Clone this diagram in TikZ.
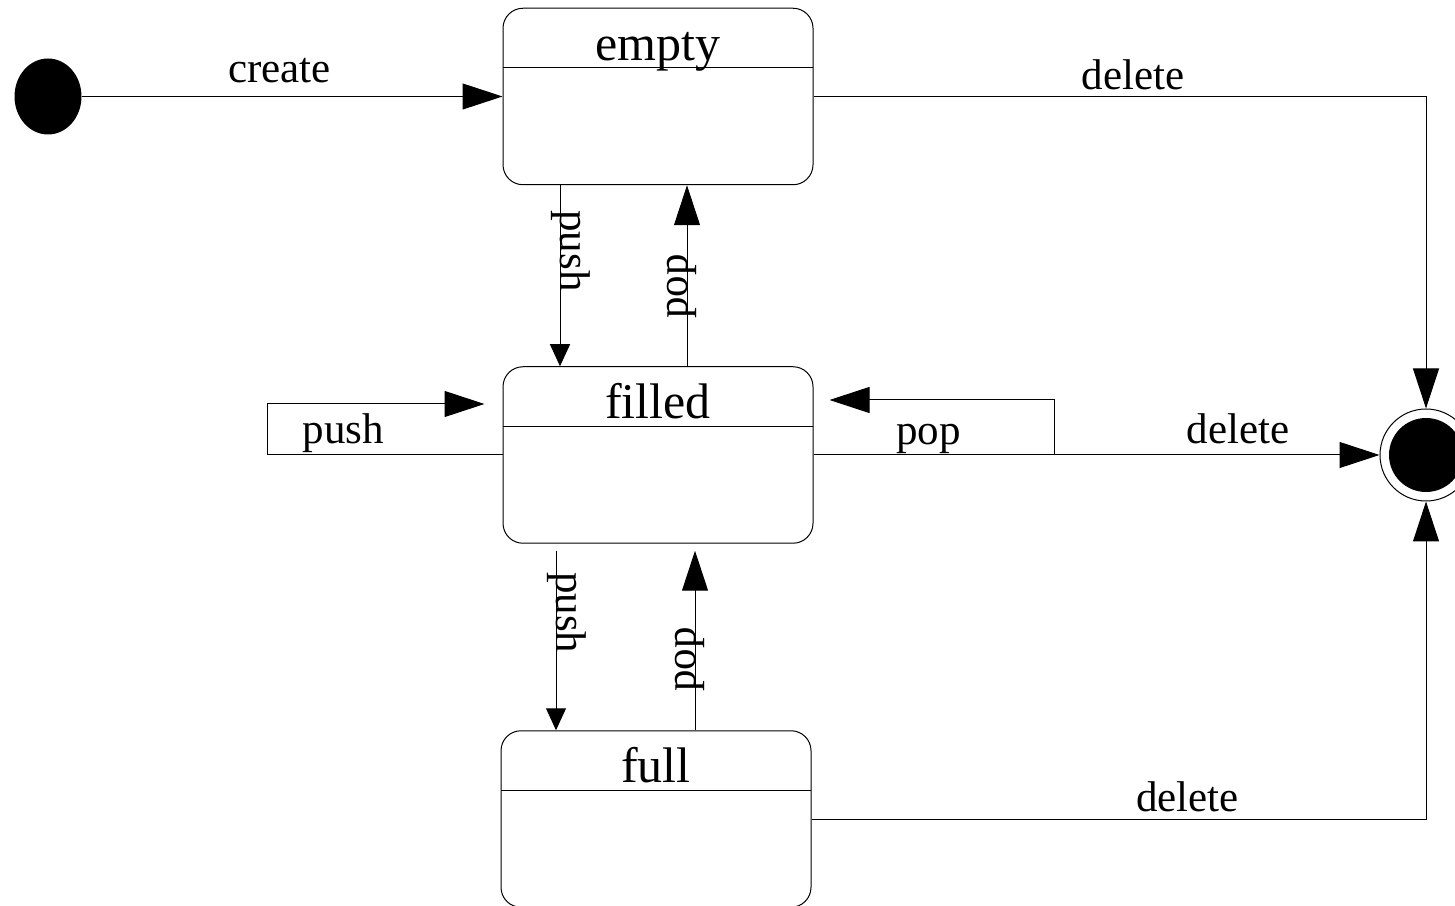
\documentclass[tikz,border=0pt]{standalone}
\usepackage{fontspec}
\setmainfont{Liberation Serif}
\usetikzlibrary{arrows.meta,shapes.geometric}
\newcommand\namefont{\fontsize{25}{28}\selectfont}
\newcommand\lblfont{\fontsize{21.5}{24}\selectfont}
\begin{document}
\begin{tikzpicture}[x=0.5pt,y=0.5pt,line width=0.5pt,
  state/.style={draw,rounded corners=10pt,minimum width=155pt,minimum height=88.25pt,
    inner sep=0pt,text height=26pt,text depth=62.25pt,font=\namefont,
    path picture={\draw ([yshift=-29.75pt]path picture bounding box.north west)
      -- ([yshift=-29.75pt]path picture bounding box.north east);}},
  init/.style={ellipse,fill,minimum width=33.5pt,minimum height=38pt,inner sep=0pt},
  final/.style={circle,draw,minimum size=46pt,inner sep=0pt,
    path picture={\fill (path picture bounding box.center) circle (18.5pt);}},
  lbl/.style={font=\lblfont,anchor=base,inner sep=0pt},
  bigtip/.style={-{Triangle[length=20pt,width=13pt]}},
  smalltip/.style={-{Triangle[length=11pt,width=10pt]}}]
  \useasboundingbox (0,0) rectangle (1455,905);

  % 状态
  \node[init] (init) at (48,808.5) {};
  \node[state] (empty) at (658,808.5) {empty};
  \node[state] (filled) at (658,450) {filled};
  \node[state] (full) at (656,86) {full};
  \node[final] (final) at (1426,450) {};

  % 转移
  \draw[bigtip] (init) -- node[lbl,pos=.47,yshift=7pt] {create} (empty.west);
  \draw[bigtip] (empty.east) -| node[lbl,pos=.261,yshift=3.5pt] {delete} (final.north);
  \draw[bigtip] (filled.east) -- node[lbl,pos=.75,yshift=5.5pt] {delete} (final.west);
  \draw[bigtip] (full.east) -| node[lbl,pos=.306,yshift=4pt] {delete} (final.south);

  \draw[smalltip] ([xshift=-49pt]empty.south) --
    node[lbl,rotate=-90,pos=.363] {push} ([xshift=-49pt]filled.north);
  \draw[bigtip] ([xshift=14.5pt]filled.north) --
    node[lbl,rotate=90,pos=.44] {pop} ([xshift=14.5pt]empty.south);
  \draw[smalltip,shorten <=3.5pt] ([xshift=-51pt]filled.south) --
    node[lbl,rotate=-90,pos=.37] {push} ([xshift=-51pt]filled.south |- full.north);
  \draw[bigtip,shorten >=3.5pt] ([xshift=19.5pt]full.north) --
    node[lbl,rotate=90,pos=.38] {pop} ([xshift=19.5pt]full.north |- filled.south);

  % 自环
  \draw[bigtip] (filled.west) -- node[lbl,pos=.677,yshift=5.5pt] {push} ++(-235,0)
    -- ++(0,51) -- ([shift={(-9pt,25.5pt)}]filled.west);
  \draw[bigtip] (filled.east) -- node[lbl,pos=.477,yshift=5pt] {pop} ++(241,0)
    -- ++(0,55) -- ([shift={(8pt,27.5pt)}]filled.east);
\end{tikzpicture}
\end{document}
